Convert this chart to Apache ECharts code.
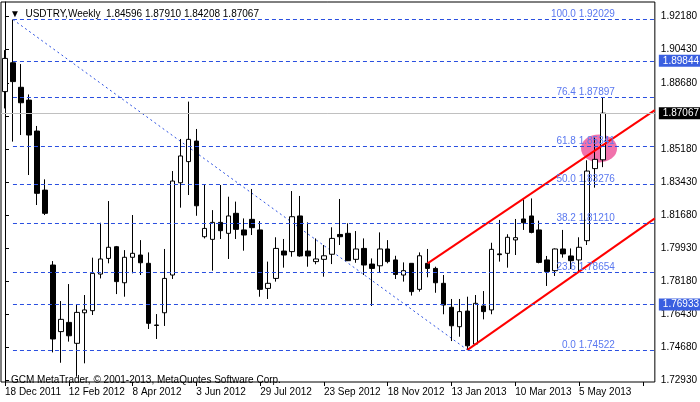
<!DOCTYPE html>
<html><head><meta charset="utf-8">
<script src="https://cdn.jsdelivr.net/npm/echarts@6/dist/echarts.min.js"></script>
<style>html,body{margin:0;padding:0;background:#fff}#c{width:700px;height:402px}</style>
</head><body><div id="c"></div>
<script>
// weekly candles: [open, close, low, high]
const ohlc = [
[1.8821,1.8997,1.8732,1.9041],[1.8974,1.8874,1.8556,1.9203],[1.8844,1.8762,1.8591,1.8967],[1.8776,1.8591,1.8379,1.8806],
[1.8612,1.8282,1.8220,1.8639],[1.8299,1.8176,1.8167,1.8356],[1.7902,1.7510,1.7439,1.7923],[1.7549,1.7614,1.7384,1.7711],
[1.7598,1.7527,1.7496,1.7801],[1.7487,1.7651,1.7310,1.7690],[1.7649,1.7664,1.7381,1.7743],[1.7660,1.7858,1.7637,1.7941],
[1.7854,1.7934,1.7831,1.8126],[1.7937,1.7996,1.7911,1.8241],[1.7999,1.7814,1.7748,1.8003],[1.7808,1.7943,1.7734,1.7981],
[1.7943,1.7964,1.7858,1.8167],[1.7955,1.7914,1.7849,1.8034],[1.7911,1.7593,1.7563,1.7969],[1.7584,1.7582,1.7510,1.7642],
[1.7649,1.7831,1.7579,1.7987],[1.7849,1.8347,1.7828,1.8400],[1.8338,1.8480,1.8206,1.8570],[1.8450,1.8568,1.8273,1.8768],
[1.8559,1.8216,1.8163,1.8623],[1.8052,1.8096,1.8043,1.8331],[1.8038,1.8128,1.7872,1.8193],[1.8128,1.8084,1.8040,1.8326],
[1.8070,1.8162,1.7934,1.8264],[1.8176,1.8091,1.8040,1.8238],[1.8088,1.8061,1.7978,1.8149],[1.8144,1.8100,1.8061,1.8305],
[1.8088,1.7773,1.7734,1.8135],[1.7778,1.7805,1.7722,1.7920],[1.7831,1.7990,1.7814,1.8049],[1.7976,1.7955,1.7888,1.8040],
[1.7973,1.8158,1.7946,1.8294],[1.8162,1.7950,1.7946,1.8268],[1.7976,1.7950,1.7893,1.8128],[1.7920,1.7934,1.7906,1.8043],
[1.7932,1.7951,1.7840,1.8008],[1.7959,1.8043,1.7907,1.8102],[1.8064,1.8052,1.8008,1.8252],[1.8070,1.7925,1.7923,1.8123],
[1.7932,1.7987,1.7914,1.8082],[1.7990,1.7902,1.7849,1.8043],[1.7907,1.7884,1.7685,1.7937],[1.7898,1.7987,1.7863,1.8075],
[1.7987,1.7920,1.7911,1.8034],[1.7929,1.7852,1.7828,1.7951],[1.7849,1.7872,1.7814,1.7916],[1.7911,1.7761,1.7740,1.7911],
[1.7773,1.7951,1.7761,1.7969],[1.7911,1.7884,1.7837,1.7987],[1.7884,1.7808,1.7755,1.7893],[1.7805,1.7690,1.7641,1.7849],
[1.7678,1.7580,1.7499,1.7722],[1.7575,1.7655,1.7522,1.7722],[1.7658,1.7474,1.7452,1.7734],[1.7483,1.7699,1.7478,1.7743],
[1.7685,1.7655,1.7614,1.7764],[1.7664,1.7985,1.7641,1.8020],[1.7961,1.7957,1.7920,1.8141],[1.7964,1.8049,1.7888,1.8065],
[1.8035,1.8047,1.7955,1.8146],[1.8146,1.8126,1.8088,1.8250],[1.8162,1.8075,1.8070,1.8255],[1.8088,1.7916,1.7911,1.8137],
[1.7929,1.7867,1.7791,1.7950],[1.7872,1.7987,1.7844,1.7990],[1.7987,1.7961,1.7941,1.8088],[1.7950,1.7925,1.7881,1.7990],
[1.7929,1.7996,1.7867,1.8049],[1.8031,1.8400,1.8008,1.8457],[1.8413,1.8462,1.8312,1.8577],[1.84596,1.87067,1.84208,1.87910]
];
const startDate = new Date(Date.UTC(2011,11,18));
const totalSlots = 82;
const months = ['Jan','Feb','Mar','Apr','May','Jun','Jul','Aug','Sep','Oct','Nov','Dec'];
const categories = [];
for (let i=0;i<totalSlots;i++){const d=new Date(startDate.getTime()+i*7*864e5);categories.push(d.getUTCDate()+' '+months[d.getUTCMonth()]+' '+d.getUTCFullYear());}
const priceTicks = [1.92180,1.90430,1.88680,1.86930,1.85180,1.83430,1.81680,1.79930,1.78180,1.76430,1.74680,1.72930];
const fibLevels = [[1.92029,'100.0'],[1.87897,'76.4'],[1.85341,'61.8'],[1.83276,'50.0'],[1.81210,'38.2'],[1.78654,'23.6'],[1.74522,'0.0']];
const boxLevels = [1.89844,1.76933];
const lastPrice = 1.87067;
const upperChannel = [[53,1.7911],[81.5,1.8723]];
const lowerChannel = [[58,1.7452],[81.5,1.8149]];
const fibDiagonal = [[1,1.9203],[58,1.7452]];
const highlight = [[74.5,1.8520]];

const blue='#2a4fe0', lblue='#5a78f0';
const markData=[];
fibLevels.forEach(([v,n])=>markData.push([{coord:[1,v],label:{show:true,formatter:n+' '+v.toFixed(5),position:'insideEndTop',distance:[40,0],color:lblue,fontSize:10,fontFamily:'Liberation Sans'}},{coord:[81.5,v]}]));
boxLevels.forEach(v=>markData.push([{coord:[1,v],label:{show:true,formatter:v.toFixed(5),position:'end',distance:4,color:'#fff',backgroundColor:'#3a5fe0',padding:[1,4,1,4],fontSize:10,fontFamily:'Liberation Sans'}},{coord:[81.5,v]}]));

const chart=echarts.init(document.getElementById('c'));
chart.setOption({
 animation:false,
 grid:{left:1,right:43,top:2,bottom:20,show:true,borderColor:'#000',borderWidth:1},
 title:[{text:'▼  USDTRY,Weekly  1.84596 1.87910 1.84208 1.87067',left:5,top:4,textStyle:{fontSize:10,fontWeight:'normal',color:'#000',fontFamily:'Liberation Sans'}},
        {text:'GCM MetaTrader, © 2001-2013, MetaQuotes Software Corp.',left:6,top:370,textStyle:{fontSize:10,fontWeight:'normal',color:'#000',fontFamily:'Liberation Sans'}}],
 xAxis:[{type:'category',data:categories,boundaryGap:true,
   axisLine:{show:false},axisTick:{show:true,interval:7,alignWithLabel:true,length:4,inside:false,lineStyle:{color:'#000'}},
   axisLabel:{interval:7,align:'left',margin:5,fontSize:10,color:'#000',fontFamily:'Liberation Sans',formatter:(v,i)=>i<76?v:''},splitLine:{show:false}},
  {type:'value',min:-0.5,max:81.5,show:false}],
 yAxis:{type:'value',position:'right',min:1.7282,max:1.9296,
   axisLine:{show:true,lineStyle:{color:'#000'}},
   axisTick:{show:true,length:4,customValues:priceTicks,lineStyle:{color:'#000'}},
   axisLabel:{customValues:priceTicks,formatter:v=>v.toFixed(5),fontSize:10,color:'#000',margin:6,fontFamily:'Liberation Sans'},
   splitLine:{show:false}},
 series:[
  {type:'scatter',xAxisIndex:1,data:highlight,symbol:'circle',symbolSize:[36,28],itemStyle:{color:'#f06aa8',opacity:0.95},z:1,silent:true},
  {type:'line',xAxisIndex:1,data:[],z:2,markLine:{symbol:'none',silent:true,lineStyle:{color:blue,type:[4,3],width:1},label:{show:false},data:markData}},
  {type:'line',xAxisIndex:1,data:[],z:2,markLine:{symbol:'none',silent:true,lineStyle:{color:'#c0c0c0',type:'solid',width:1},
    data:[[{coord:[-0.5,lastPrice],label:{show:true,formatter:lastPrice.toFixed(5),position:'end',distance:4,color:'#fff',backgroundColor:'#000',padding:[1,4,1,4],fontSize:10,fontFamily:'Liberation Sans'}},{coord:[81.5,lastPrice]}]]}},
  {type:'line',xAxisIndex:1,data:fibDiagonal,symbol:'none',lineStyle:{color:blue,type:[2,3],width:1},z:2},
  {type:'line',xAxisIndex:1,data:upperChannel,symbol:'none',lineStyle:{color:'#ff0000',width:2},z:4},
  {type:'line',xAxisIndex:1,data:lowerChannel,symbol:'none',lineStyle:{color:'#ff0000',width:2},z:4},
  {type:'candlestick',data:ohlc,barWidth:5,z:3,itemStyle:{color:'#fff',color0:'#000',borderColor:'#000',borderColor0:'#000',borderWidth:1}}
 ]
});
</script></body></html>
